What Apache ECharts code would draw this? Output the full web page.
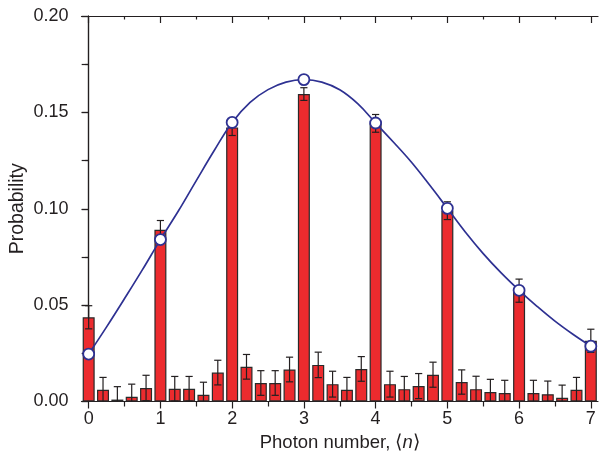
<!DOCTYPE html>
<html>
<head>
<meta charset="utf-8">
<script src="https://cdn.jsdelivr.net/npm/echarts@6/dist/echarts.min.js"></script>
<style>html,body{margin:0;padding:0;background:#fff}#c{width:601px;height:453px}</style>
</head>
<body>
<div id="c"></div>
<script>
// Measured histogram (x positions step 0.2)
var barX = [0,0.2,0.4,0.6,0.8,1.0,1.2,1.4,1.6,1.8,2.0,2.2,2.4,2.6,2.8,3.0,3.2,3.4,3.6,3.8,4.0,4.2,4.4,4.6,4.8,5.0,5.2,5.4,5.6,5.8,6.0,6.2,6.4,6.6,6.8,7.0];
var barY = [0.0437,0.0061,0.0010,0.0024,0.0070,0.0891,0.0066,0.0066,0.0035,0.0150,0.1422,0.0180,0.0096,0.0096,0.0166,0.1595,0.0190,0.0090,0.0061,0.0169,0.1443,0.0090,0.0064,0.0080,0.0139,0.0990,0.0101,0.0064,0.0049,0.0044,0.0575,0.0044,0.0038,0.0019,0.0061,0.0315];
var barErr = [0.0060,0.0064,0.0067,0.0066,0.0066,0.0048,0.0064,0.0064,0.0065,0.0064,0.0042,0.0064,0.0064,0.0064,0.0064,0.0033,0.0066,0.0067,0.0064,0.0064,0.0046,0.0067,0.0066,0.0065,0.0065,0.0046,0.0063,0.0067,0.0066,0.0066,0.0060,0.0066,0.0068,0.0066,0.0064,0.0060];
// Theory curve
var curveX = [0,0.25,0.5,0.75,1,1.25,1.5,1.75,2,2.25,2.5,2.75,3,3.25,3.5,3.75,4,4.25,4.5,4.75,5,5.25,5.5,5.75,6,6.25,6.5,6.75,7];
var curveY = [0.0246,0.0387,0.0534,0.0684,0.0840,0.0988,0.1146,0.1302,0.1448,0.1552,0.1618,0.1657,0.1670,0.1657,0.1617,0.1545,0.1445,0.1345,0.1241,0.1124,0.1002,0.0879,0.0767,0.0667,0.0577,0.0494,0.0417,0.0349,0.0287];
// Circles at integer photon numbers
var dotX = [0,1,2,3,4,5,6,7];
var dotY = [0.0246,0.0840,0.1448,0.1670,0.1445,0.1002,0.0577,0.0287];
var xMajor = [0,1,2,3,4,5,6,7];
var xMinor = [0.5,1.5,2.5,3.5,4.5,5.5,6.5];

var ink = '#231f20';
var red = '#ec2b2e';
var blue = '#2e3192';
var font = 'Liberation Sans, Arial, Helvetica, sans-serif';

var barData = barX.map(function(x,i){return [x, barY[i]];});
var errData = barX.map(function(x,i){return [x, Math.max(0, barY[i]-barErr[i]), barY[i]+barErr[i]];});
var curveData = curveX.map(function(x,i){return [x, curveY[i]];});
var dotData = dotX.map(function(x,i){return [x, dotY[i]];});

function xAx(pos, vals, len, inside, line, labels) {
  return {
    type: 'value', position: pos, min: -0.1, max: 7.1,
    axisLine: {show: line, lineStyle: {color: ink, width: 1.2}},
    axisTick: {show: true, customValues: vals, length: len, inside: inside, lineStyle: {color: ink, width: 1.2}},
    axisLabel: labels ? {show: true, customValues: vals, fontSize: 18, color: ink, fontFamily: font, margin: 9} : {show: false},
    splitLine: {show: false}
  };
}

var xAxes = [
  xAx('bottom', xMajor, 7, false, true, true),
  xAx('bottom', xMinor, 5, false, false, false),
  xAx('top', xMajor, 7, true, true, false),
  xAx('top', xMinor, 3.5, true, false, false)
];
xAxes[0].name = 'Photon number, ⟨{i|n}⟩';
xAxes[0].nameLocation = 'middle';
xAxes[0].nameGap = 30;
xAxes[0].nameTextStyle = {fontSize: 18.5, color: ink, fontFamily: font, rich: {i: {fontStyle: 'italic', fontSize: 18.5, color: ink, fontFamily: font}}};

var chart = echarts.init(document.getElementById('c'), null, {renderer: 'canvas'});
chart.setOption({
  animation: false,
  backgroundColor: '#fff',
  grid: {left: 81.5, right: 3, top: 16, bottom: 51.5, containLabel: false, outerBoundsMode: 'none'},
  xAxis: xAxes,
  yAxis: [
    {
      type: 'value', position: 'left', min: 0, max: 0.2, interval: 0.05,
      name: 'Probability', nameLocation: 'middle', nameGap: 54, nameMoveOverlap: false,
      nameTextStyle: {fontSize: 19.5, color: ink, fontFamily: font},
      axisLine: {show: true, lineStyle: {color: ink, width: 1.2}},
      axisTick: {show: true, length: 7, lineStyle: {color: ink, width: 1.2}},
      minorTick: {show: true, splitNumber: 2, length: 3.5, lineStyle: {color: ink, width: 1.2}},
      axisLabel: {fontSize: 18, color: ink, fontFamily: font, margin: 13, formatter: function(v){return v.toFixed(2);}},
      splitLine: {show: false}
    },
    {
      type: 'value', position: 'right', min: 0, max: 0.2, interval: 0.025,
      axisLine: {show: true, lineStyle: {color: ink, width: 1.2}},
      axisTick: {show: true, inside: true, length: 7, lineStyle: {color: ink, width: 1.2}},
      axisLabel: {show: false},
      splitLine: {show: false}
    }
  ],
  series: [
    {
      type: 'bar', xAxisIndex: 0, yAxisIndex: 0, data: barData, barWidth: 12,
      itemStyle: {color: red, borderColor: '#2a2a2a', borderWidth: 1.2},
      z: 2
    },
    {
      type: 'custom', xAxisIndex: 0, yAxisIndex: 0, data: errData, z: 3,
      encode: {x: 0, y: [1, 2]},
      renderItem: function(params, api) {
        var x = api.value(0);
        var top = api.coord([x, api.value(2)]);
        var bot = api.coord([x, api.value(1)]);
        var w = 3.6;
        var st = {stroke: ink, lineWidth: 1.2};
        var children = [
          {type: 'line', shape: {x1: top[0], y1: top[1], x2: bot[0], y2: bot[1]}, style: st},
          {type: 'line', shape: {x1: top[0]-w, y1: top[1], x2: top[0]+w, y2: top[1]}, style: st}
        ];
        if (api.value(1) > 0) {
          children.push({type: 'line', shape: {x1: bot[0]-w, y1: bot[1], x2: bot[0]+w, y2: bot[1]}, style: st});
        }
        return {type: 'group', children: children};
      }
    },
    {
      type: 'line', xAxisIndex: 0, yAxisIndex: 0, data: curveData, smooth: 0.4,
      showSymbol: false, lineStyle: {color: blue, width: 1.7}, z: 4
    },
    {
      type: 'scatter', xAxisIndex: 0, yAxisIndex: 0, data: dotData,
      symbol: 'circle', symbolSize: 11,
      itemStyle: {color: '#ffffff', opacity: 1, borderColor: blue, borderWidth: 1.8}, z: 5
    }
  ]
});
</script>
</body>
</html>
